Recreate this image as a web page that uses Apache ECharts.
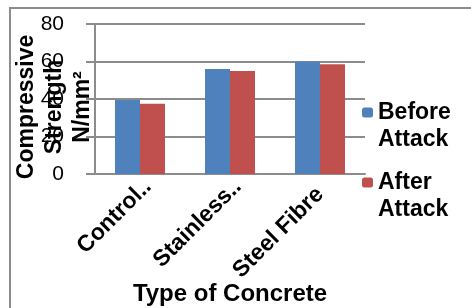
<!DOCTYPE html>
<html>
<head>
<meta charset="utf-8">
<script src="https://cdn.jsdelivr.net/npm/echarts@6/dist/echarts.min.js"></script>
<style>
  html, body { margin: 0; padding: 0; background: #fff; }
  #chart { width: 471px; height: 308px; }
</style>
</head>
<body>
<div id="chart"></div>
<script>
// values
const categories = ['Control..', 'Stainless..', 'Steel Fibre']
const beforeAttack = [39.5, 56, 60]
const afterAttack = [37.5, 55, 58.5]
const seriesNames = ['Before\nAttack', 'After\nAttack']
const yTicks = { min: 0, max: 80, interval: 20 }

const font = '"Liberation Sans", Arial, sans-serif'
const gray = '#8c8c8c'

// truncated labels sit a bit further along the diagonal, like in the original
const categoryData = categories.map(c =>
  c.endsWith('..') ? { value: c, textStyle: { padding: [0, -11, 0, 0] } } : c
)

const chart = echarts.init(document.getElementById('chart'))

chart.setOption({
  backgroundColor: '#fff',
  animation: false,
  textStyle: { fontFamily: font, color: '#000' },
  graphic: [
    {
      type: 'rect',
      shape: { x: 10, y: 8, width: 500, height: 400 },
      style: { fill: 'none', stroke: gray, lineWidth: 2 },
      silent: true,
    },
  ],
  grid: { left: 95, top: 24, width: 270, height: 150, containLabel: false, outerBoundsMode: 'none' },
  legend: {
    orient: 'vertical',
    left: 362,
    top: 72,
    padding: 0,
    itemWidth: 11,
    itemHeight: 10,
    itemGap: -11,
    data: seriesNames,
    // blank first line so the marker sits next to the first text line
    formatter: name => ' \n' + name,
    textStyle: {
      fontFamily: font,
      fontWeight: 'bold',
      fontSize: 23,
      lineHeight: 27,
      color: '#000',
    },
  },
  xAxis: {
    type: 'category',
    data: categoryData,
    name: 'Type of Concrete',
    nameLocation: 'middle',
    nameGap: 108,
    nameMoveOverlap: false,
    nameTextStyle: { fontFamily: font, fontWeight: 'bold', fontSize: 24, color: '#000' },
    axisLine: { lineStyle: { color: gray, width: 2 } },
    axisTick: { show: false },
    axisLabel: {
      rotate: 45,
      margin: 17,
      fontFamily: font,
      fontWeight: 'bold',
      fontSize: 23,
      color: '#000',
      interval: 0,
    },
  },
  yAxis: {
    type: 'value',
    min: yTicks.min,
    max: yTicks.max,
    interval: yTicks.interval,
    name: 'Compressive\nStrength\nN/mm²',
    nameLocation: 'middle',
    nameGap: -2,
    nameMoveOverlap: false,
    nameTextStyle: {
      fontFamily: font,
      fontWeight: 'bold',
      fontSize: 23,
      lineHeight: 28,
      color: '#000',
      align: 'center',
      padding: [0, 16, 0, 0],
    },
    axisLine: { show: true, lineStyle: { color: gray, width: 2 } },
    axisTick: { show: true, length: 9, lineStyle: { color: gray, width: 2 } },
    splitLine: { lineStyle: { color: gray, width: 2 } },
    axisLabel: { margin: 31, fontFamily: font, fontSize: 21, color: '#000' },
  },
  series: [
    {
      name: seriesNames[0],
      type: 'bar',
      data: beforeAttack,
      barWidth: 25,
      barGap: '0%',
      itemStyle: { color: '#4f81bd' },
    },
    {
      name: seriesNames[1],
      type: 'bar',
      data: afterAttack,
      barWidth: 25,
      barGap: '0%',
      itemStyle: { color: '#c0504d' },
    },
  ],
})
</script>
</body>
</html>
